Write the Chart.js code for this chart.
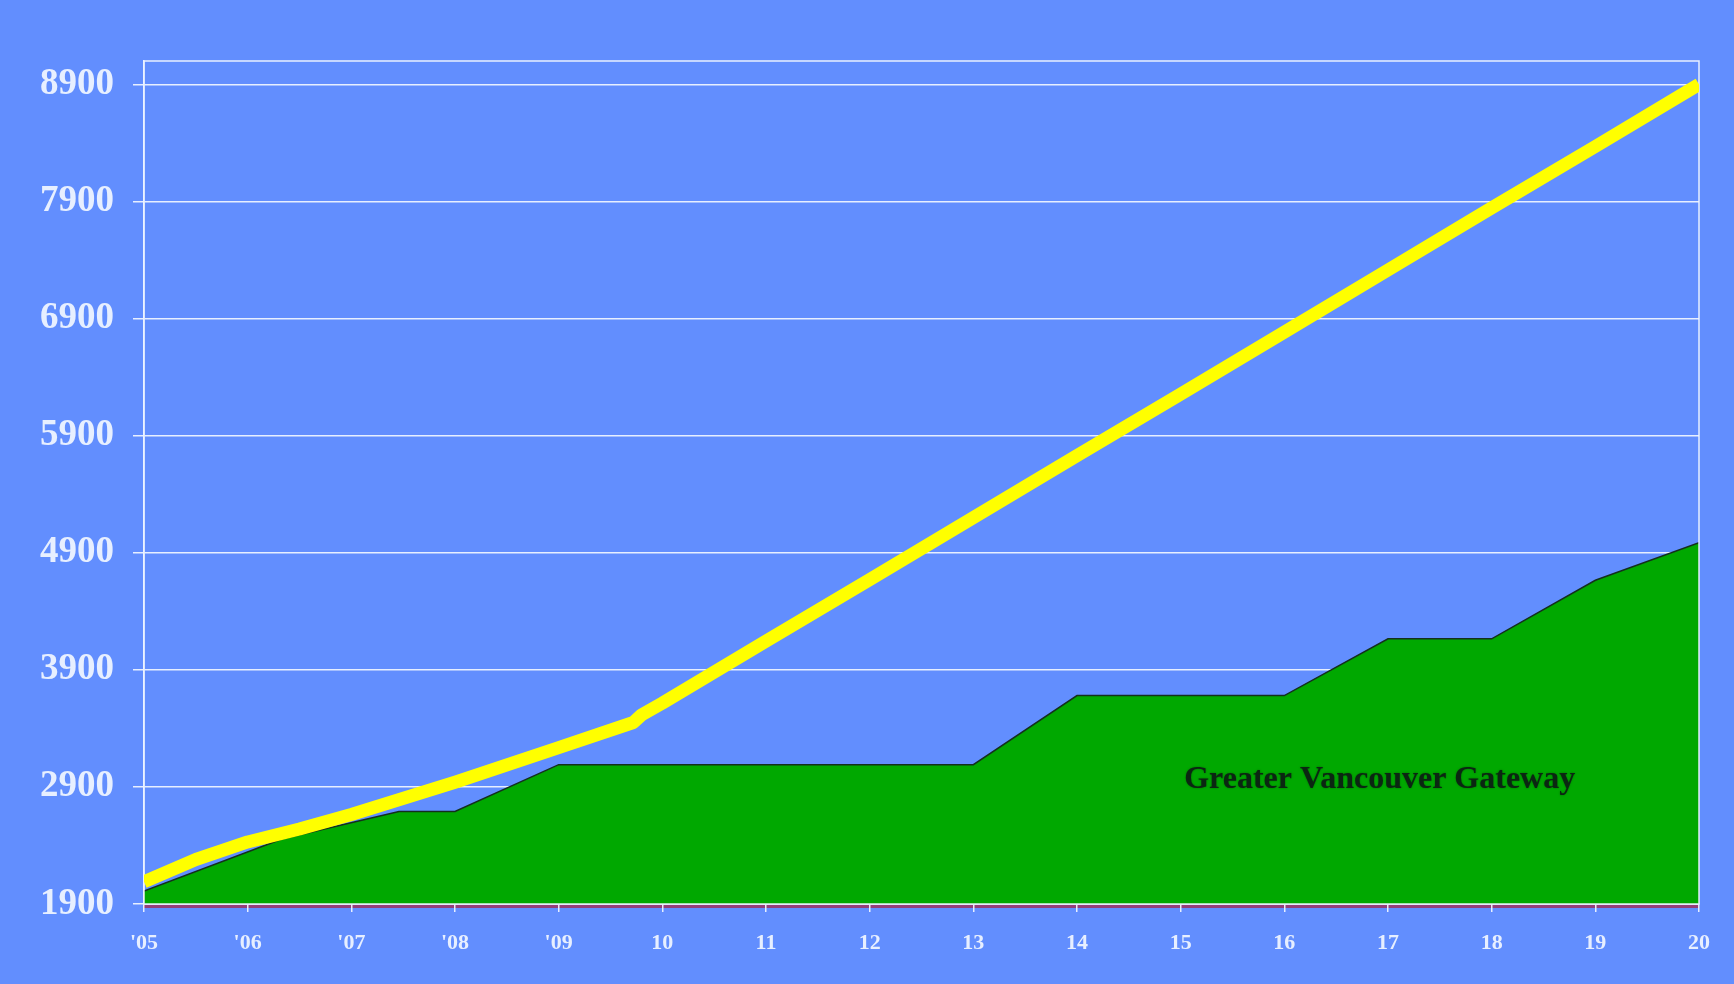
<!DOCTYPE html>
<html>
<head>
<meta charset="utf-8">
<title>Greater Vancouver Gateway</title>
<script src="https://cdn.jsdelivr.net/npm/chart.js@4/dist/chart.umd.min.js"></script>
<style>
  html, body { margin: 0; padding: 0; background: #628efe; }
  #wrap { width: 1734px; height: 984px; }
</style>
</head>
<body>
<div id="wrap"><canvas id="chart"></canvas></div>
<script>
// x positions are years after 2005, labels below
const yearLabels = ["'05", "'06", "'07", "'08", "'09", '10', '11', '12', '13', '14', '15', '16', '17', '18', '19', '20']
const yTickValues = [1900, 2900, 3900, 4900, 5900, 6900, 7900, 8900]

// yellow trend line
const trendYears = [0, 0.5, 1, 1.5, 2, 3, 4, 4.72, 4.8, 5, 6, 7, 8, 9, 10, 11, 12, 13, 14, 15]
const trendValues = [2090, 2280, 2430, 2540, 2665, 2940, 3235, 3450, 3515, 3615, 4145, 4670, 5200, 5730, 6255, 6785, 7315, 7845, 8370, 8900]

// green area, Greater Vancouver Gateway
const gatewayYears = [0, 1.33, 2.46, 3, 4, 5, 6, 7, 8, 9, 10, 11, 12, 13, 14, 15]
const gatewayValues = [2010, 2455, 2690, 2690, 3090, 3090, 3090, 3090, 3090, 3680, 3680, 3680, 4165, 4165, 4665, 4985]

const gatewayLabel = 'Greater Vancouver Gateway'
const gatewayLabelAt = { x: 11.92, y: 2960 }

const toPoints = (xs, ys) => xs.map((x, i) => ({ x: x, y: ys[i] }))

const serif = '"Liberation Serif", "Times New Roman", serif'
const white = 'rgba(238, 244, 255, 0.95)'

// frame, underline and the area label
const framePlugin = {
  id: 'frame',
  beforeDraw (chart) {
    const { ctx, chartArea } = chart
    ctx.save()
    ctx.strokeStyle = '#94407a'
    ctx.lineWidth = 3
    ctx.beginPath()
    ctx.moveTo(chartArea.left, chartArea.bottom + 2.5)
    ctx.lineTo(chartArea.right, chartArea.bottom + 2.5)
    ctx.stroke()
    ctx.restore()
  },
  afterDatasetDraw (chart, args) {
    if (args.index !== 1) return
    const { ctx, chartArea, scales } = chart
    ctx.save()
    ctx.strokeStyle = white
    ctx.lineWidth = 1.5
    ctx.strokeRect(chartArea.left, chartArea.top, chartArea.right - chartArea.left, chartArea.bottom - chartArea.top)

    ctx.font = 'bold 32px ' + serif
    ctx.fillStyle = '#0b2612'
    ctx.textAlign = 'center'
    ctx.textBaseline = 'middle'
    ctx.shadowColor = 'rgba(0, 60, 0, 0.6)'
    ctx.shadowBlur = 2
    ctx.fillText(gatewayLabel, scales.x.getPixelForValue(gatewayLabelAt.x), scales.y.getPixelForValue(gatewayLabelAt.y))
    ctx.restore()
  }
}

new Chart(document.getElementById('chart'), {
  type: 'line',
  data: {
    datasets: [
      {
        label: 'Trend',
        data: toPoints(trendYears, trendValues),
        borderColor: '#ffff00',
        borderWidth: 13,
        borderJoinStyle: 'round',
        borderCapStyle: 'butt',
        tension: 0,
        pointRadius: 0,
        fill: false,
        order: 0
      },
      {
        label: gatewayLabel,
        data: toPoints(gatewayYears, gatewayValues),
        borderColor: '#14301c',
        borderWidth: 1.5,
        backgroundColor: '#00a800',
        tension: 0,
        pointRadius: 0,
        fill: 'start',
        order: 1
      }
    ]
  },
  options: {
    responsive: true,
    maintainAspectRatio: false,
    animation: false,
    layout: { padding: { top: 61, right: 35, left: 0, bottom: 0 } },
    plugins: {
      legend: { display: false },
      tooltip: { enabled: false }
    },
    scales: {
      x: {
        type: 'linear',
        min: 0,
        max: 15,
        afterBuildTicks: (scale) => {
          scale.ticks = yearLabels.map((l, i) => ({ value: i }))
        },
        afterFit: (scale) => { scale.height = 80 },
        ticks: {
          autoSkip: false,
          maxRotation: 0,
          padding: 18,
          color: white,
          font: { family: serif, size: 22, weight: 'bold' },
          callback: (value) => yearLabels[value]
        },
        grid: {
          drawOnChartArea: false,
          drawTicks: true,
          tickLength: 8,
          color: white,
          lineWidth: 1.5
        },
        border: { display: true, color: white, width: 1.5 }
      },
      y: {
        min: 1900,
        max: 9100,
        afterBuildTicks: (scale) => {
          scale.ticks = yTickValues.map(v => ({ value: v }))
        },
        afterFit: (scale) => { scale.width = 144 },
        ticks: {
          padding: 19,
          color: white,
          font: { family: serif, size: 37, weight: 'bold' },
          callback: (value) => String(value)
        },
        grid: {
          color: white,
          lineWidth: 1.5,
          drawTicks: true,
          tickLength: 11
        },
        border: { display: true, color: white, width: 1.5 }
      }
    }
  },
  plugins: [framePlugin]
})
</script>
</body>
</html>
